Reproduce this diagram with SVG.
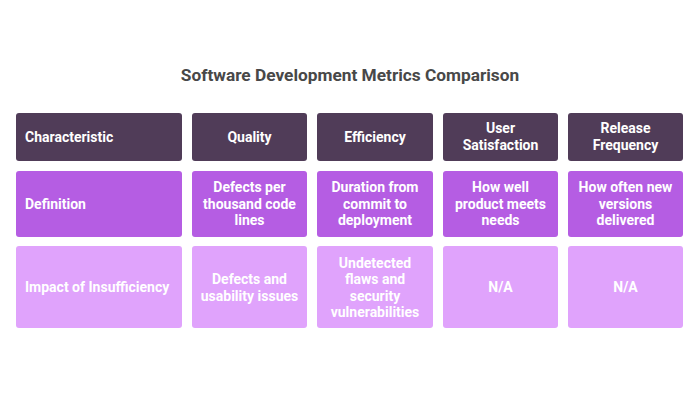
<svg xmlns="http://www.w3.org/2000/svg" width="700" height="400" viewBox="0 0 700 400">
<style>
.t{font-family:Roboto,"Liberation Sans",sans-serif;font-weight:bold;font-size:14px;fill:#ffffff;text-anchor:middle}
.l{text-anchor:start}
.title{font-family:Roboto,"Liberation Sans",sans-serif;font-weight:bold;font-size:17.3px;fill:#484848;text-anchor:middle}
.h{fill:#503c58}
.d{fill:#b55de3}
.i{fill:#e0a3fc}
</style>
<rect width="700" height="400" fill="#ffffff"/>
<text class="title" x="350" y="80.5">Software Development Metrics Comparison</text>
<g id="connectors"></g>
<g id="h-char"><rect class="h" x="16" y="113" width="166" height="48" rx="3"/><text class="t l" x="25" y="141.5">Characteristic</text></g>
<g id="h-quality"><rect class="h" x="192" y="113" width="115" height="48" rx="3"/><text class="t" x="249.5" y="141.5">Quality</text></g>
<g id="h-eff"><rect class="h" x="317" y="113" width="116" height="48" rx="3"/><text class="t" x="375" y="141.5">Efficiency</text></g>
<g id="h-user"><rect class="h" x="443" y="113" width="115" height="48" rx="3"/><text class="t" x="500.5" y="133.3">User</text><text class="t" x="500.5" y="150">Satisfaction</text></g>
<g id="h-rel"><rect class="h" x="568" y="113" width="115" height="48" rx="3"/><text class="t" x="625.5" y="133.3">Release</text><text class="t" x="625.5" y="150">Frequency</text></g>
<g id="d-label"><rect class="d" x="16" y="171" width="166" height="66" rx="3"/><text class="t l" x="25" y="208.8">Definition</text></g>
<g id="d-quality"><rect class="d" x="192" y="171" width="115" height="66" rx="3"/><text class="t" x="249.5" y="192">Defects per</text><text class="t" x="249.5" y="208.5">thousand code</text><text class="t" x="249.5" y="225">lines</text></g>
<g id="d-eff"><rect class="d" x="317" y="171" width="116" height="66" rx="3"/><text class="t" x="375" y="192">Duration from</text><text class="t" x="375" y="208.5">commit to</text><text class="t" x="375" y="225">deployment</text></g>
<g id="d-user"><rect class="d" x="443" y="171" width="115" height="66" rx="3"/><text class="t" x="500.5" y="192">How well</text><text class="t" x="500.5" y="208.5">product meets</text><text class="t" x="500.5" y="225">needs</text></g>
<g id="d-rel"><rect class="d" x="568" y="171" width="115" height="66" rx="3"/><text class="t" x="625.5" y="192">How often new</text><text class="t" x="625.5" y="208.5">versions</text><text class="t" x="625.5" y="225">delivered</text></g>
<g id="i-label"><rect class="i" x="16" y="246" width="166" height="82" rx="3"/><text class="t l" x="25" y="292.3">Impact of Insufficiency</text></g>
<g id="i-quality"><rect class="i" x="192" y="246" width="115" height="82" rx="3"/><text class="t" x="249.5" y="284">Defects and</text><text class="t" x="249.5" y="300.5">usability issues</text></g>
<g id="i-eff"><rect class="i" x="317" y="246" width="116" height="82" rx="3"/><text class="t" x="375" y="267.5">Undetected</text><text class="t" x="375" y="284">flaws and</text><text class="t" x="375" y="300.5">security</text><text class="t" x="375" y="317">vulnerabilities</text></g>
<g id="i-user"><rect class="i" x="443" y="246" width="115" height="82" rx="3"/><text class="t" x="500.5" y="292.3">N/A</text></g>
<g id="i-rel"><rect class="i" x="568" y="246" width="115" height="82" rx="3"/><text class="t" x="625.5" y="292.3">N/A</text></g>
</svg>
